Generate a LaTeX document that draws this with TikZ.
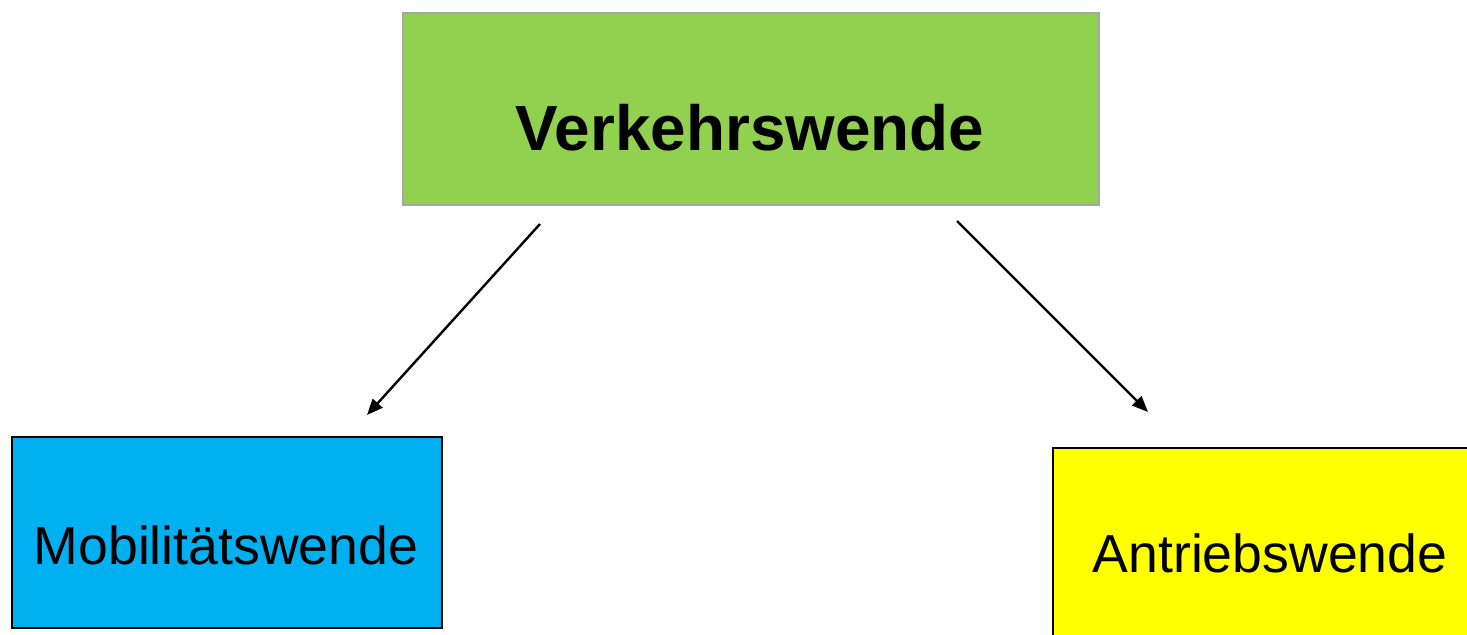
\documentclass[tikz,border=0pt]{standalone}
\usepackage{fontspec}
\setmainfont{Liberation Sans}
\usetikzlibrary{arrows.meta}
\definecolor{vwgreen}{HTML}{92D050}
\definecolor{mwblue}{HTML}{00B0F0}
\definecolor{awyellow}{HTML}{FFFF00}
\tikzset{
  box/.style={draw, line width=0.75pt, inner sep=0pt, anchor=north west},
  lbl/.style={inner sep=0pt, anchor=base, text=black},
  conn/.style={line width=1.2pt, -{Triangle[length=8pt,width=6.5pt]}}
}
\begin{document}
\begin{tikzpicture}[x=0.5pt,y=-0.5pt]
\useasboundingbox (0,0) rectangle (1467,634);
\clip (0,0) rectangle (1467,634);
\node[box, draw=black!35, fill=vwgreen, minimum width=348pt, minimum height=96pt] (vw) at (402,12) {};
\node[box, fill=mwblue, minimum width=215pt, minimum height=95.5pt] (mw) at (11,436) {};
\node[box, fill=awyellow, minimum width=220pt, minimum height=110pt] (aw) at (1052,447) {};
\node[lbl, font=\fontsize{31.9pt}{38pt}\selectfont\bfseries] (vwt) at (750,150) {Verkehrswende};
\node[lbl, font=\fontsize{26.8pt}{32pt}\selectfont] (mwt) at (226,564) {Mobilitätswende};
\node[lbl, font=\fontsize{26.8pt}{32pt}\selectfont] (awt) at (1270,572) {Antriebswende};
\coordinate (l1) at (540,224);
\coordinate (l2) at (367,415);
\coordinate (r1) at (957,221);
\coordinate (r2) at (1148,412);
\draw[conn] (l1) -- (l2);
\draw[conn] (r1) -- (r2);
\end{tikzpicture}
\end{document}
